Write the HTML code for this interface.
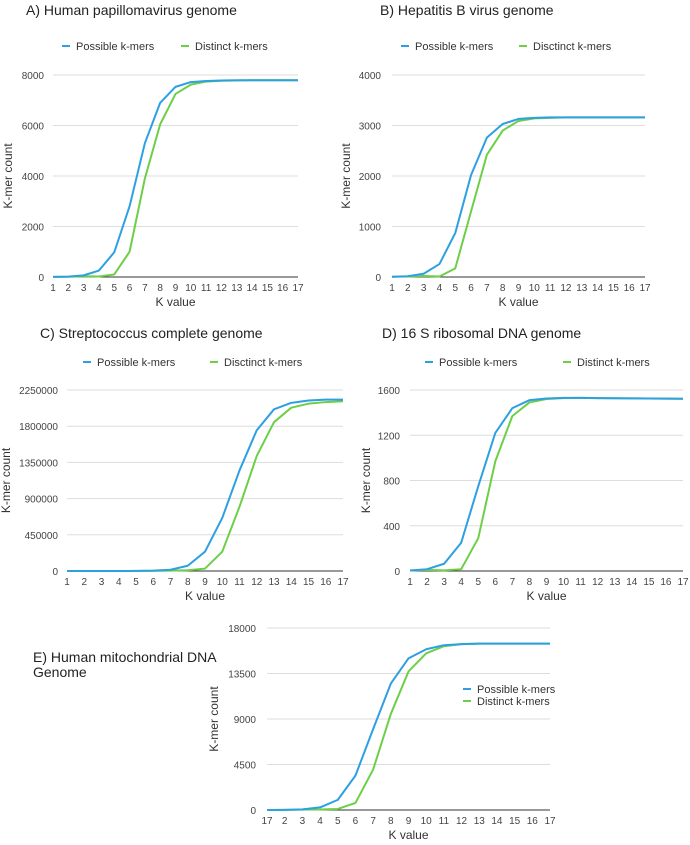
<!DOCTYPE html>
<html><head><meta charset="utf-8"><style>
html,body{margin:0;padding:0;background:#fff}
svg{display:block;font-family:"Liberation Sans",Arial,sans-serif}
</style></head><body>
<svg id="s" width="690" height="845" viewBox="0 0 690 845"></svg>
<script>
const kValues=[1,2,3,4,5,6,7,8,9,10,11,12,13,14,15,16,17];
const xLabelsStd=["1","2","3","4","5","6","7","8","9","10","11","12","13","14","15","16","17"];
const xLabelsE=["17","2","3","4","5","6","7","8","9","10","11","12","13","14","15","16","17"];
const possibleA=[4,16,64,256,980,2800,5300,6900,7530,7720,7760,7780,7790,7790,7790,7790,7790];
const distinctA=[4,10,30,20,100,1000,3900,6050,7250,7620,7740,7770,7780,7790,7790,7790,7790];
const possibleB=[4,16,64,256,870,2020,2760,3030,3130,3150,3160,3160,3160,3160,3160,3160,3160];
const distinctB=[4,10,20,10,170,1300,2420,2900,3090,3140,3150,3160,3160,3160,3160,3160,3160];
const possibleC=[4,16,64,256,1024,4096,16000,65000,240000,660000,1250000,1750000,2010000,2090000,2120000,2130000,2130000];
const distinctC=[4,10,30,100,500,2000,5000,10000,30000,240000,800000,1430000,1850000,2030000,2080000,2100000,2110000];
const possibleD=[4,16,64,250,750,1220,1440,1510,1525,1530,1530,1528,1527,1526,1525,1524,1523];
const distinctD=[4,10,5,16,290,970,1370,1490,1520,1528,1530,1528,1527,1526,1525,1524,1523];
const possibleE=[4,16,64,256,1000,3400,8000,12500,15000,15900,16300,16400,16450,16450,16450,16450,16450];
const distinctE=[4,10,40,50,100,700,4000,9500,13700,15500,16200,16400,16450,16450,16450,16450,16450];
const ticksA=[0,2000,4000,6000,8000];
const ticksB=[0,1000,2000,3000,4000];
const ticksC=[0,450000,900000,1350000,1800000,2250000];
const ticksD=[0,400,800,1200,1600];
const ticksE=[0,4500,9000,13500,18000];

const svg=document.getElementById('s');
const NS='http://www.w3.org/2000/svg';
function mk(tag,attrs,parent,text){const e=document.createElementNS(NS,tag);for(const k in attrs)e.setAttribute(k,attrs[k]);if(text!==undefined)e.textContent=text;parent.appendChild(e);return e;}

function chart(c){
  const g=mk('g',{},svg);
  
  
  const xs=k=>c.x0+(k-1)*(c.x1-c.x0)/16;
  const ymax=c.ticks[c.ticks.length-1];
  const ys=v=>c.y0-v/ymax*(c.y0-c.y1);
  c.title.forEach((t,i)=>{const e=mk('text',{x:c.tx,y:c.ty+i*15,'font-size':14,fill:'#222'},g,t);
    
    });
  c.ticks.forEach(v=>{
    const y=ys(v);
    if(v>0){const l=mk('line',{x1:c.x0,x2:c.gx1||c.x1,y1:y,y2:y,stroke:'#ddd','stroke-width':1},g);
      
      }
    const t=mk('text',{x:c.tr,y:y+4,'font-size':10,'text-anchor':'end',fill:'#444'},g,String(v));
    
    
  });
  const ax=mk('line',{x1:c.x0,x2:c.x1,y1:c.y0,y2:c.y0,stroke:'#333','stroke-width':1},g);
  
  
  kValues.forEach((k,i)=>{const t=mk('text',{x:xs(k),y:c.y0+14,'font-size':10,'text-anchor':'middle',fill:'#444'},g,c.xl[i]);
    
    });
  const xt=mk('text',{x:(c.x0+c.x1)/2,y:c.y0+29,'font-size':12,'text-anchor':'middle',fill:'#333'},g,'K value');
  
  
  const yc=(c.y0+c.y1)/2;
  const yt=mk('text',{x:c.ylx,y:yc,'font-size':12,'text-anchor':'middle',fill:'#333',transform:`rotate(-90 ${c.ylx} ${yc})`},g,'K-mer count');
  
  
  [[c.dist,'#6ccf47','distinct'],[c.poss,'#2d9fe3','possible']].forEach(([d,col,n])=>{
    const p=mk('polyline',{points:kValues.map((k,i)=>xs(k)+','+ys(d[i])).join(' '),fill:'none',stroke:col,'stroke-width':2,'stroke-linejoin':'round'},g);
    
    
  });
  c.legend.forEach(L=>{
    const l=mk('line',{x1:L.x,x2:L.x+8,y1:L.y,y2:L.y,stroke:L.c,'stroke-width':2},g);
    
    
    const t=mk('text',{x:L.x+14,y:L.y+4,'font-size':11,fill:'#333'},g,L.t);
    
    
  });
}
const B='#2d9fe3',G='#6ccf47';
chart({id:'a',title:['A) Human papillomavirus genome'],tx:26,ty:15,x0:53,x1:298,y0:277,y1:75,tr:44,ylx:12,ticks:ticksA,xl:xLabelsStd,poss:possibleA,dist:distinctA,
  legend:[{x:62,y:46,c:B,t:'Possible k-mers'},{x:181,y:46,c:G,t:'Distinct k-mers'}]});
chart({id:'b',title:['B) Hepatitis B virus genome'],tx:380,ty:15,x0:392,x1:645,y0:277,y1:75,tr:381,ylx:350,ticks:ticksB,xl:xLabelsStd,poss:possibleB,dist:distinctB,
  legend:[{x:401,y:46,c:B,t:'Possible k-mers'},{x:519,y:46,c:G,t:'Disctinct k-mers'}]});
chart({id:'c',title:['C) Streptococcus complete genome'],tx:40,ty:338,x0:67,x1:343,y0:571,y1:390,tr:58,ylx:10,ticks:ticksC,xl:xLabelsStd,poss:possibleC,dist:distinctC,
  legend:[{x:83,y:362,c:B,t:'Possible k-mers'},{x:210,y:362,c:G,t:'Disctinct k-mers'}]});
chart({id:'d',title:['D) 16 S ribosomal DNA genome'],tx:382,ty:338,x0:410,x1:683,y0:571,y1:390,tr:400,ylx:370,ticks:ticksD,xl:xLabelsStd,poss:possibleD,dist:distinctD,
  legend:[{x:425,y:362,c:B,t:'Possible k-mers'},{x:563,y:362,c:G,t:'Distinct k-mers'}]});
chart({id:'e',title:['E) Human mitochondrial DNA','Genome'],tx:33,ty:662,x0:267,x1:550,y0:810,y1:628,tr:256,ylx:218,ticks:ticksE,xl:xLabelsE,poss:possibleE,dist:distinctE,
  legend:[{x:463,y:689,c:B,t:'Possible k-mers'},{x:463,y:701,c:G,t:'Distinct k-mers'}]});
</script>
</body></html>
